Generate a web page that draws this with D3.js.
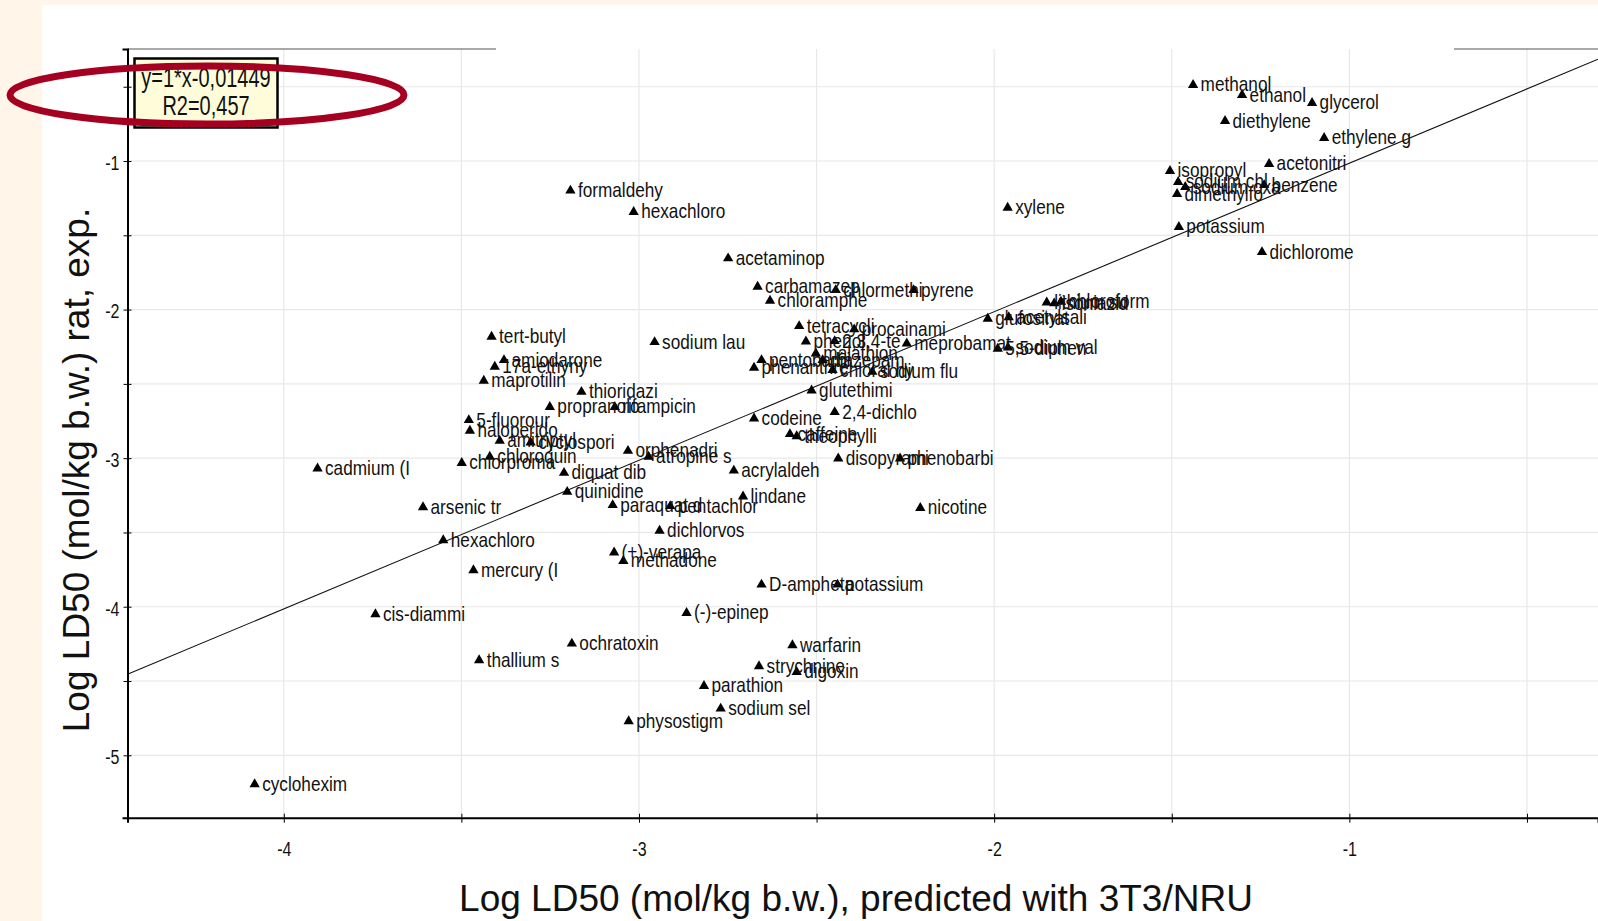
<!DOCTYPE html>
<html>
<head>
<meta charset="utf-8">
<script src="https://cdn.jsdelivr.net/npm/d3@7"></script>
<style>
  html, body { margin: 0; padding: 0; background: #fff6e9; }
  svg { display: block; }
  text { font-family: 'Liberation Sans', Arial, sans-serif; fill: #111; }
</style>
</head>
<body>
<div id="chart"></div>
<script>
// chemical names (truncated to 10 chars like the original plot)
const chemNames = [
  'methanol', 'ethanol', 'glycerol', 'diethylene', 'ethylene g', 'isopropyl', 'acetonitri',
  'sodium chl', 'sodium oxa', 'dimethylfo', 'benzene', 'potassium', 'dichlorome', 'xylene',
  'formaldehy', 'hexachloro', 'acetaminop', 'carbamazep', 'chlormethi', 'pyrene', 'chloramphe',
  'tetracycli', 'procainami', 'phenol', '2,3,4-te', 'meprobamat', 'sodium lau', 'pentobarbi',
  'phenanthre', 'malathion', 'diazepam', 'chloral hy', 'sodium flu', 'glutethimi', 'codeine',
  '2,4-dichlo', 'caffeine', 'theophylli', 'disopyrami', 'phenobarbi', 'acrylaldeh', 'lindane',
  'nicotine', 'glufosinat', 'acetylsali', '5,5-diphen', 'sodium val', 'lithium su', 'isoniazid',
  'chloroform', '5-fluorour', 'haloperido', 'tert-butyl', 'amiodarone', '17a-ethyny', 'maprotilin',
  'thioridazi', 'propranolo', 'rifampicin', 'amitriptyl', 'cyclospori', 'chloroquin', 'chlorproma',
  'diquat dib', 'orphenadri', 'atropine s', 'quinidine', 'paraquat d', 'pentachlor', 'arsenic tr',
  'hexachloro', 'dichlorvos', 'cadmium (I', 'mercury (I', 'cis-diammi', 'thallium s', 'cyclohexim',
  '(+)-verapa', 'methadone', 'D-ampheta', 'potassium', '(-)-epinep', 'ochratoxin', 'warfarin',
  'strychnine', 'digoxin', 'parathion', 'sodium sel', 'physostigm'
];

// Log LD50 predicted with 3T3/NRU (mol/kg b.w.)
const predLogLD50 = [
  -1.440, -1.302, -1.105, -1.350, -1.071, -1.505, -1.226,
  -1.482, -1.462, -1.485, -1.240, -1.480, -1.246, -1.962,
  -3.193, -3.015, -2.749, -2.666, -2.446, -2.227, -2.631,
  -2.549, -2.394, -2.530, -2.449, -2.246, -2.956, -2.655,
  -2.676, -2.502, -2.483, -2.455, -2.343, -2.514, -2.676,
  -2.449, -2.575, -2.556, -2.439, -2.265, -2.733, -2.707,
  -2.208, -2.018, -1.959, -1.990, -1.961, -1.852, -1.831,
  -1.812, -3.479, -3.476, -3.415, -3.380, -3.406, -3.437,
  -3.162, -3.251, -3.068, -3.392, -3.305, -3.420, -3.499,
  -3.211, -3.031, -2.973, -3.202, -3.074, -2.912, -3.608,
  -3.551, -2.942, -3.905, -3.466, -3.742, -3.450, -4.082,
  -3.070, -3.044, -2.655, -2.441, -2.866, -3.189, -2.568,
  -2.662, -2.556, -2.817, -2.770, -3.029
];

// Log LD50 rat, experimental (mol/kg b.w.)
const expLogLD50 = [
  -0.488, -0.556, -0.609, -0.731, -0.845, -1.067, -1.020,
  -1.141, -1.175, -1.222, -1.162, -1.444, -1.613, -1.315,
  -1.199, -1.343, -1.655, -1.846, -1.869, -1.869, -1.941,
  -2.111, -2.133, -2.215, -2.212, -2.228, -2.219, -2.340,
  -2.391, -2.295, -2.340, -2.407, -2.419, -2.545, -2.733,
  -2.690, -2.838, -2.852, -3.002, -3.002, -3.084, -3.258,
  -3.335, -2.061, -2.051, -2.263, -2.256, -1.952, -1.958,
  -1.947, -2.744, -2.816, -2.183, -2.340, -2.385, -2.479,
  -2.554, -2.655, -2.655, -2.883, -2.894, -2.991, -3.032,
  -3.099, -2.951, -2.991, -3.227, -3.316, -3.323, -3.330,
  -3.552, -3.488, -3.069, -3.754, -4.051, -4.360, -5.195,
  -3.635, -3.692, -3.851, -3.851, -4.042, -4.248, -4.259,
  -4.401, -4.439, -4.533, -4.686, -4.771
];

const xTicks = [-4, -3.5, -3, -2.5, -2, -1.5, -1, -0.5];
const yTicks = [-0.5, -1, -1.5, -2, -2.5, -3, -3.5, -4, -4.5, -5];

const fitSlope = 1;
const fitIntercept = -0.01449;
const fitLines = ['y=1*x-0,01449', 'R2=0,457'];

const xTitle = 'Log LD50 (mol/kg b.w.), predicted with 3T3/NRU';
const yTitle = 'Log LD50 (mol/kg b.w.) rat, exp.';

const W = 1598;
const H = 921;
const plot = { left: 127.5, right: 1598, top: 49, bottom: 817.7 };

const svg = d3.select('#chart')
  .append('svg')
  .attr('width', W)
  .attr('height', H);

// white slide panel on the cream background
svg.append('rect')
  .attr('x', 42).attr('y', 5)
  .attr('width', W - 42).attr('height', H - 5)
  .attr('fill', '#fff');

const x = d3.scaleLinear().domain([-4.44, -0.30]).range([plot.left, plot.right]);
const y = d3.scaleLinear().domain([-5.42, -0.246]).range([plot.bottom, plot.top]);

svg.append('clipPath').attr('id', 'plotclip')
  .append('rect')
  .attr('x', plot.left).attr('y', plot.top)
  .attr('width', plot.right - plot.left).attr('height', plot.bottom - plot.top);

// grid
const grid = svg.append('g');
grid.selectAll('.vg').data(xTicks).enter().append('line')
  .attr('x1', (d) => x(d)).attr('x2', (d) => x(d))
  .attr('y1', plot.top).attr('y2', plot.bottom)
  .attr('stroke', '#e8e8e8').attr('stroke-width', 1.2);
grid.selectAll('.hg').data(yTicks).enter().append('line')
  .attr('x1', plot.left).attr('x2', plot.right)
  .attr('y1', (d) => y(d)).attr('y2', (d) => y(d))
  .attr('stroke', '#e8e8e8').attr('stroke-width', 1.2);

// top frame (interrupted in the original)
svg.append('line')
  .attr('x1', plot.left).attr('x2', 496).attr('y1', plot.top).attr('y2', plot.top)
  .attr('stroke', '#555').attr('stroke-width', 1.2);
svg.append('line')
  .attr('x1', 1454).attr('x2', plot.right).attr('y1', plot.top).attr('y2', plot.top)
  .attr('stroke', '#555').attr('stroke-width', 1.2);

// axes
const tickFmt = (d) => (Number.isInteger(d) ? String(d) : '');

const xAxis = svg.append('g')
  .attr('transform', 'translate(0,' + plot.bottom + ')')
  .call(d3.axisBottom(x).tickValues(xTicks).tickFormat(tickFmt).tickSizeOuter(0).tickSize(5).tickPadding(19));
xAxis.select('.domain').attr('stroke', '#000').attr('stroke-width', 2);
xAxis.selectAll('.tick line').attr('y1', -4).attr('y2', 5).attr('stroke', '#000');
xAxis.selectAll('.tick text')
  .attr('font-family', "'Liberation Sans', Arial, sans-serif")
  .attr('font-size', 20)
  .attr('transform', 'scale(0.8,1)')
  .attr('fill', '#111');

const yAxis = svg.append('g')
  .attr('transform', 'translate(' + plot.left + ',0)')
  .call(d3.axisLeft(y).tickValues(yTicks).tickFormat(tickFmt).tickSizeOuter(0).tickSize(5));
yAxis.select('.domain').attr('stroke', '#000').attr('stroke-width', 2);
yAxis.selectAll('.tick line').attr('x1', -4).attr('x2', 4).attr('stroke', '#000');
yAxis.selectAll('.tick text')
  .attr('font-family', "'Liberation Sans', Arial, sans-serif")
  .attr('font-size', 20)
  .attr('x', 0)
  .attr('dy', '0.42em')
  .attr('transform', 'translate(-8,0) scale(0.8,1)')
  .attr('fill', '#111');

// fit line
const fitX = x.domain();
svg.append('path')
  .datum(fitX)
  .attr('clip-path', 'url(#plotclip)')
  .attr('fill', 'none')
  .attr('stroke', '#111')
  .attr('stroke-width', 1.1)
  .attr('d', d3.line().x((d) => x(d)).y((d) => y(fitSlope * d + fitIntercept)));

// points
const points = chemNames.map((name, i) => ({ name, px: predLogLD50[i], ey: expLogLD50[i] }));

const pts = svg.append('g').attr('clip-path', 'url(#plotclip)');
pts.selectAll('.pt')
  .data(points)
  .enter()
  .append('path')
  .attr('class', 'pt')
  .attr('transform', (d) => 'translate(' + x(d.px) + ',' + y(d.ey) + ')')
  .attr('d', d3.symbol(d3.symbolTriangle, 46))
  .attr('fill', '#000');

pts.selectAll('.lbl')
  .data(points)
  .enter()
  .append('text')
  .attr('class', 'lbl')
  .attr('transform', (d) => 'translate(' + (x(d.px) + 7.5) + ',' + (y(d.ey) + 6.5) + ') scale(0.86,1)')
  .attr('font-size', 20)
  .text((d) => d.name);

// regression annotation box
const box = svg.append('g');
box.append('rect')
  .attr('x', 134.5).attr('y', 58.5)
  .attr('width', 143).attr('height', 69)
  .attr('fill', '#fffdd9')
  .attr('stroke', '#000')
  .attr('stroke-width', 2.5);
box.selectAll('text')
  .data(fitLines)
  .enter()
  .append('text')
  .attr('transform', (d, i) => 'translate(206,' + (87 + i * 28) + ') scale(0.74,1)')
  .attr('text-anchor', 'middle')
  .attr('font-size', 27)
  .text((d) => d);

// red highlight ellipse
svg.append('ellipse')
  .attr('cx', 207).attr('cy', 95)
  .attr('rx', 197).attr('ry', 29)
  .attr('fill', 'none')
  .attr('stroke', '#a50021')
  .attr('stroke-width', 7);

// axis titles
svg.append('text')
  .attr('x', 856).attr('y', 911)
  .attr('text-anchor', 'middle')
  .attr('font-size', 37)
  .text(xTitle);

svg.append('text')
  .attr('transform', 'translate(89,470) rotate(-90)')
  .attr('text-anchor', 'middle')
  .attr('font-size', 37)
  .text(yTitle);
</script>
</body>
</html>
